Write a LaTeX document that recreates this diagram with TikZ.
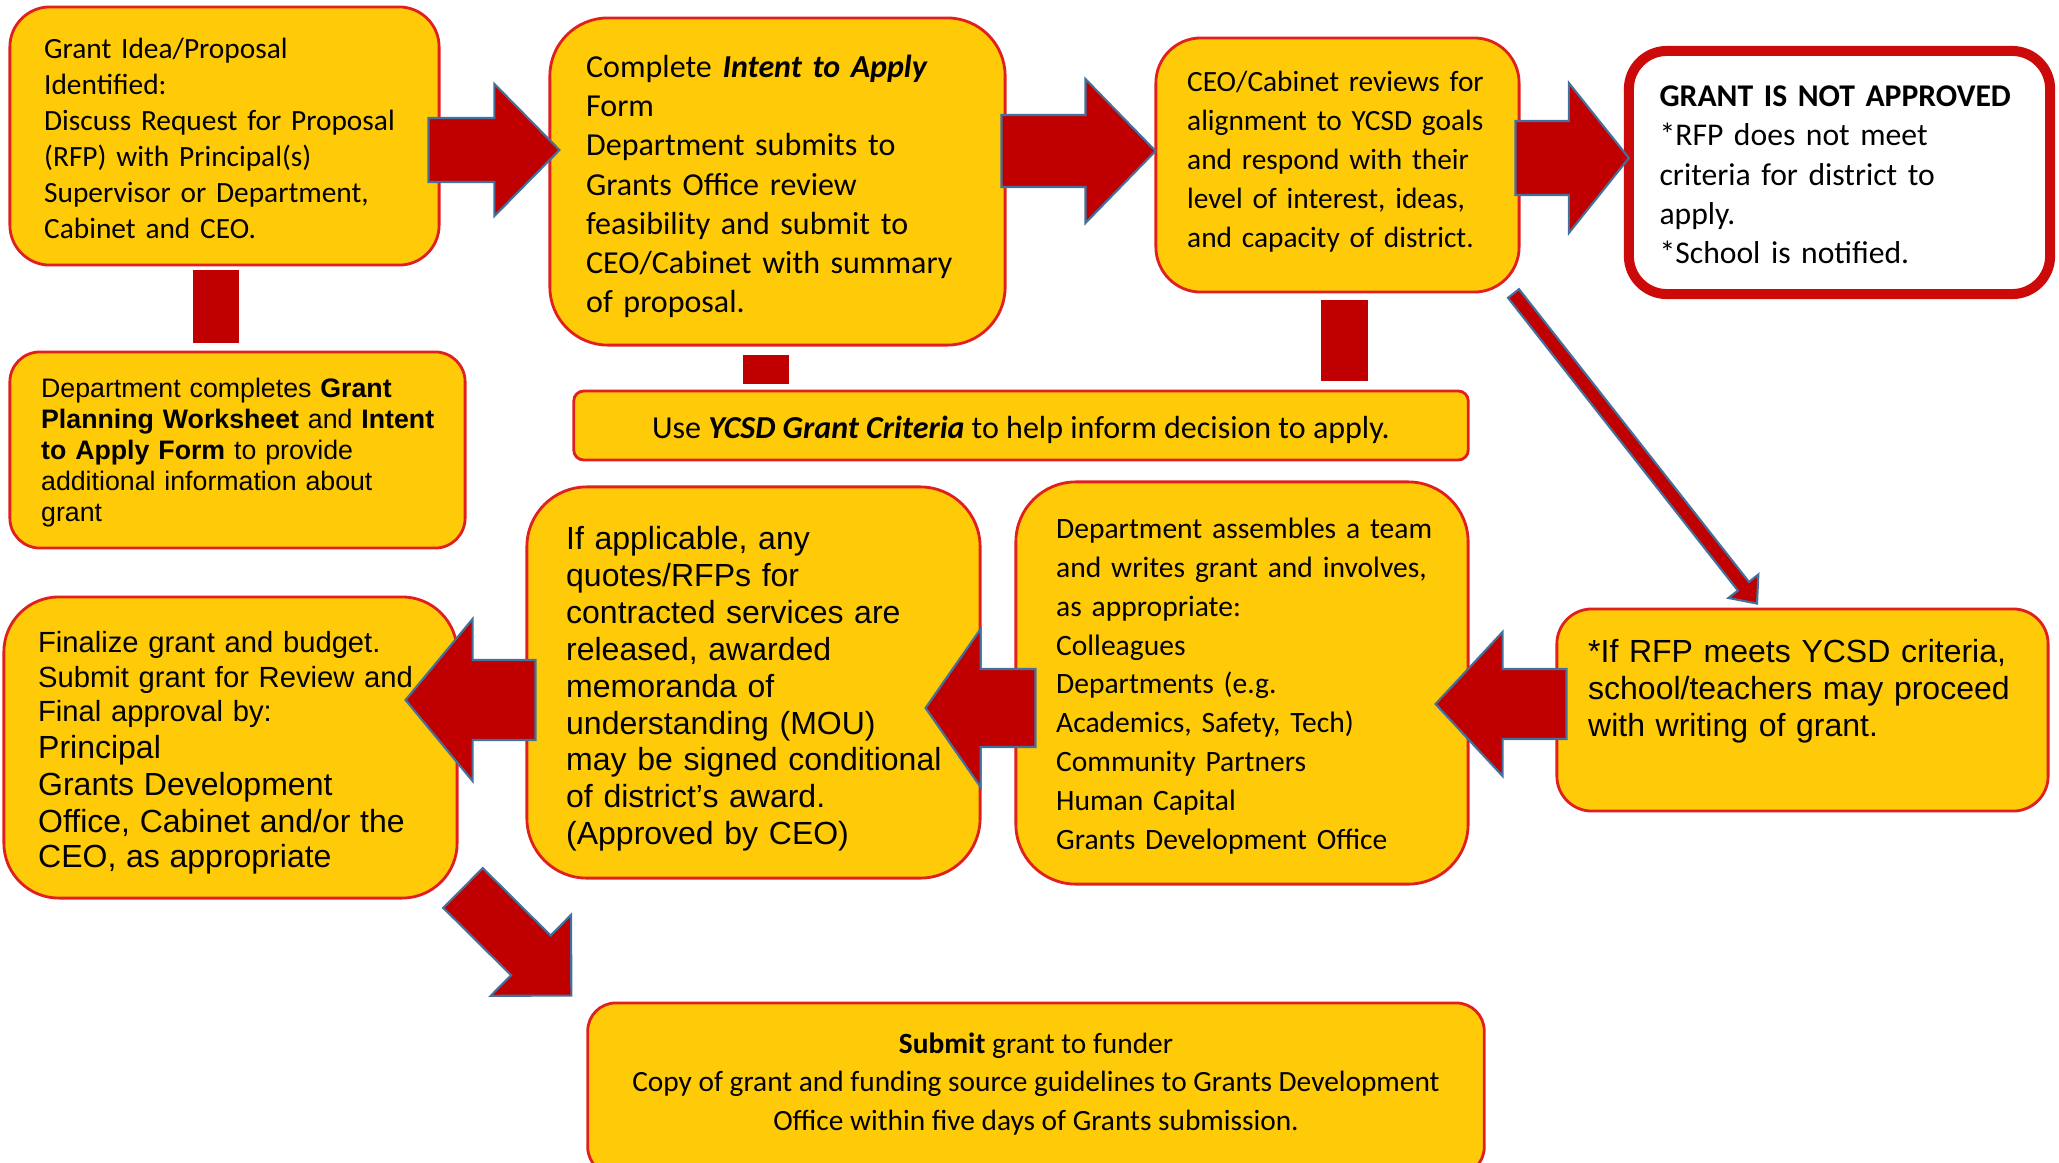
\documentclass[tikz,border=0pt]{standalone}
\usepackage{fontspec}
\setmainfont{Carlito}
\newfontfamily\arialf{Liberation Sans}
\usetikzlibrary{calc}
\definecolor{boxyellow}{HTML}{FFCA08}
\definecolor{boxred}{HTML}{E0201E}
\definecolor{arrowred}{HTML}{C00000}
\definecolor{arrowedge}{HTML}{41719C}
\definecolor{notred}{HTML}{CC0A0A}
\tikzset{
  ybox/.style={draw=boxred, line width=0.8pt, fill=boxyellow, rounded corners=#1, inner sep=0pt},
  ybox/.default=0.4cm,
  nbox/.style={draw=notred, line width=2.85pt, fill=white, rounded corners=#1, inner sep=0pt},
  txt/.style={anchor=north west, inner sep=0pt, align=left},
  barrow/.style={fill=arrowred, draw=arrowedge, line width=0.6pt, line join=miter},
  bar/.style={fill=arrowred, draw=none}
}
\newcommand{\blockarrow}[5]{%
  \coordinate (ba-base) at ($(#2)!#5!(#1)$);
  \draw[barrow] ($(#1)!#3!90:(#2)$) -- ($(ba-base)!#3!90:(#2)$) -- ($(ba-base)!#4!90:(#2)$)
    -- (#2) -- ($(ba-base)!#4!-90:(#2)$) -- ($(ba-base)!#3!-90:(#2)$) -- ($(#1)!#3!-90:(#2)$) -- cycle;
}
\begin{document}
\begin{tikzpicture}[x=0.01cm,y=-0.01cm]
\useasboundingbox (0,0) rectangle (2059,1163);
\clip (0,0) rectangle (2059,1163);

% boxes
\node[ybox=0.40cm, minimum width=4.29cm, minimum height=2.58cm] (box1) at (224.5,136) {};
\node[ybox=0.58cm, minimum width=4.55cm, minimum height=3.27cm] (box2) at (777.5,181.5) {};
\node[ybox=0.45cm, minimum width=3.63cm, minimum height=2.54cm] (box3) at (1337.5,165) {};
\node[nbox=0.38cm, minimum width=4.21cm, minimum height=2.43cm] (box4) at (1839.5,172.5) {};
\node[ybox=0.30cm, minimum width=4.55cm, minimum height=1.96cm] (box5) at (237.5,450) {};
\node[ybox=0.10cm, minimum width=8.94cm, minimum height=0.69cm] (crit) at (1021,425.5) {};
\node[ybox=0.60cm, minimum width=4.53cm, minimum height=3.91cm] (quotes) at (753.5,682.5) {};
\node[ybox=0.60cm, minimum width=4.52cm, minimum height=4.02cm] (dept) at (1242,683) {};
\node[ybox=0.35cm, minimum width=4.91cm, minimum height=2.02cm] (rfp) at (1802.5,710) {};
\node[ybox=0.55cm, minimum width=4.53cm, minimum height=3.01cm] (fin) at (230.5,747.5) {};
\node[ybox=0.28cm, minimum width=8.96cm, minimum height=1.72cm] (submit) at (1036,1089) {};

% bars
\fill[bar] ($(box1.south)+(-31.5,4)$) rectangle ($(box5.north -| box1.south)+(14.5,-8)$);
\fill[bar] ($(box2.south)+(-34.5,8)$) rectangle ($(crit.north -| box2.south)+(11.5,-6)$);
\fill[bar] ($(box3.south)+(-16.5,7)$) rectangle ($(crit.north -| box3.south)+(30.5,-9)$);

% arrow end coordinates
\coordinate (a1s) at ($(box1.east)+(-12,14)$);
\coordinate (a1t) at ($(box2.west)+(11,-31.5)$);
\coordinate (a2s) at ($(box2.east)+(-5,-30.5)$);
\coordinate (a2t) at ($(box3.west)+(1,-14)$);
\coordinate (a3s) at ($(box3.east)+(-5,-7)$);
\coordinate (a3t) at ($(box4.west)+(5,-14.5)$);
\coordinate (ads) at ($(box3.south east)+(-7,0)$);
\coordinate (adt) at ($(rfp.north)+(-45.5,-4)$);
\coordinate (a4s) at ($(rfp.west)+(11,-6)$);
\coordinate (a4t) at ($(dept.east)+(-34,21)$);
\coordinate (a5s) at ($(dept.west)+(21,25)$);
\coordinate (a5t) at ($(quotes.east)+(-56,25.5)$);
\coordinate (a6s) at ($(quotes.west)+(10,17.5)$);
\coordinate (a6t) at ($(fin.east)+(-53,-47.5)$);
\coordinate (a7s) at ($(fin.south east)+(4.5,-11.5)$);
\coordinate (a7t) at ($(submit.north west)+(-15,-6)$);

\blockarrow{a1s}{a1t}{0.32cm}{0.66cm}{0.65cm}
\blockarrow{a2s}{a2t}{0.36cm}{0.72cm}{0.70cm}
\blockarrow{a3s}{a3t}{0.37cm}{0.75cm}{0.60cm}
\blockarrow{ads}{adt}{0.07cm}{0.19cm}{0.22cm}
\blockarrow{a4s}{a4t}{0.35cm}{0.72cm}{0.67cm}
\blockarrow{a5s}{a5t}{0.39cm}{0.79cm}{0.55cm}
\blockarrow{a6s}{a6t}{0.40cm}{0.81cm}{0.67cm}
\blockarrow{a7s}{a7t}{0.28cm}{0.57cm}{0.57cm}

% texts
\node[txt, font=\fontsize{8.35}{10.24}\selectfont, text width=3.95cm] (t1) at ($(box1.north west)+(35,32)$)
 {Grant Idea/Proposal\\Identified:\\Discuss Request for Proposal\\(RFP) with Principal(s)\\Supervisor or Department,\\Cabinet and CEO.};
\node[txt, font=\fontsize{9.1}{11.13}\selectfont, text width=4.1cm] (t2) at ($(box2.north west)+(37,38)$)
 {Complete \textbf{\textit{Intent to Apply}}\\Form\\Department submits to\\Grants Office review\\feasibility and submit to\\CEO/Cabinet with summary\\of proposal.};
\node[txt, font=\fontsize{8.35}{11.1}\selectfont, text width=3.25cm] (t3) at ($(box3.north west)+(32,34)$)
 {CEO/Cabinet reviews for\\alignment to YCSD goals\\and respond with their\\level of interest, ideas,\\and capacity of district.};
\node[txt, font=\fontsize{9}{11.2}\selectfont, text width=3.8cm] (t4) at ($(box4.north west)+(35,39)$)
 {\textbf{GRANT IS NOT APPROVED}\\{*}RFP does not meet\\criteria for district to\\apply.\\{*}School is notified.};
\node[txt, font=\arialf\fontsize{7.6}{8.8}\selectfont, text width=4.2cm] (t5) at ($(box5.north west)+(32,27)$)
 {Department completes \textbf{Grant}\\\textbf{Planning Worksheet} and \textbf{Intent}\\\textbf{to Apply Form} to provide\\additional information about\\grant};
\node[inner sep=0pt, font=\fontsize{9.1}{11}\selectfont] (tcrit) at ($(crit.center)+(0,4)$)
 {Use \textbf{\textit{YCSD Grant Criteria}} to help inform decision to apply.};
\node[txt, font=\arialf\fontsize{9.1}{10.5}\selectfont, text width=4.1cm] (tq) at ($(quotes.north west)+(40,40)$)
 {If applicable, any\\quotes/RFPs for\\contracted services are\\released, awarded\\memoranda of\\understanding (MOU)\\may be signed conditional\\of district’s award.\\(Approved by CEO)};
\node[txt, font=\fontsize{8.4}{11.03}\selectfont, text width=4.0cm] (tdept) at ($(dept.north west)+(41,37)$)
 {Department assembles a team\\and writes grant and involves,\\as appropriate:\\Colleagues\\Departments (e.g.\\Academics, Safety, Tech)\\Community Partners\\Human Capital\\Grants Development Office};
\node[txt, font=\arialf\fontsize{9.1}{10.46}\selectfont, text width=4.5cm] (trfp) at ($(rfp.north west)+(32,31)$)
 {*If RFP meets YCSD criteria,\\school/teachers may proceed\\with writing of grant.};
\node[txt, font=\arialf\fontsize{8.3}{9.9}\selectfont, text width=4.15cm] (tfin) at ($(fin.north west)+(35,35)$)
 {Finalize grant and budget.\\Submit grant for Review and\\Final approval by:\par
  \fontsize{9.1}{10.46}\selectfont Principal\\Grants Development\\Office, Cabinet and/or the\\CEO, as appropriate};
\node[anchor=north, inner sep=0pt, align=center, font=\fontsize{8.35}{10.84}\selectfont] (tsub) at ($(submit.north)+(0,31)$)
 {\textbf{Submit} grant to funder\\Copy of grant and funding source guidelines to Grants Development\\Office within five days of Grants submission.};
\end{tikzpicture}
\end{document}
